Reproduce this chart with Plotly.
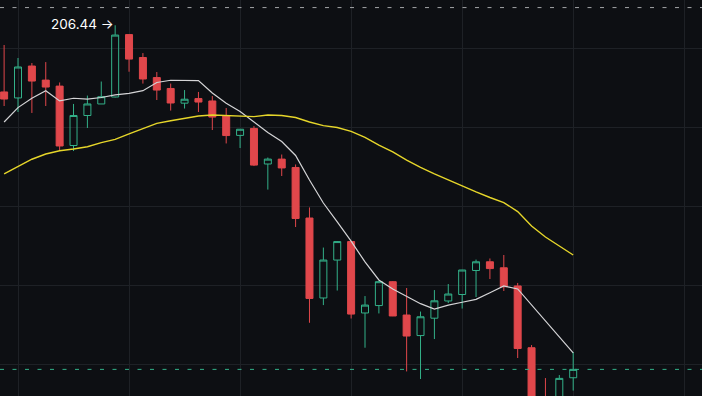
import plotly.graph_objects as go

# ---- data ----
idx = list(range(42))
open_ = [202.22, 201.84, 203.86, 202.97, 202.59, 198.83, 200.73, 201.46, 201.90, 205.85,
         204.40, 203.13, 202.44, 201.51, 201.80, 201.65, 200.73, 199.47, 199.91, 197.66,
         197.97, 197.44, 194.24, 189.18, 191.58, 192.75, 188.23, 188.70, 190.21, 188.10,
         186.80, 187.90, 188.99, 189.40, 190.92, 191.47, 191.09, 189.94, 186.03, 182.60,
         182.10, 184.13]
high = [205.19, 204.37, 204.05, 204.11, 202.82, 201.46, 201.99, 202.88, 206.44, 205.86,
        204.68, 203.48, 202.75, 202.34, 202.22, 201.96, 201.20, 199.87, 200.06, 198.07,
        198.26, 197.63, 194.91, 192.37, 192.78, 192.76, 189.30, 190.28, 190.25, 189.81,
        188.32, 189.68, 190.06, 190.96, 191.61, 191.68, 191.90, 190.13, 186.20, 184.11,
        184.30, 185.76]
low = [201.33, 200.95, 200.89, 201.33, 198.51, 198.48, 199.94, 201.46, 201.87, 203.50,
       202.75, 201.71, 201.04, 201.17, 200.95, 199.81, 198.96, 198.67, 197.53, 196.04,
       196.90, 193.67, 187.61, 188.73, 189.65, 187.88, 186.03, 188.20, 188.03, 184.53,
       184.05, 186.58, 188.86, 188.51, 189.24, 190.38, 189.62, 185.38, 182.10, 181.60,
       181.80, 183.32]
close = [201.77, 203.80, 202.91, 202.53, 198.80, 200.73, 201.46, 201.92, 205.82, 204.30,
         203.04, 202.34, 201.52, 201.76, 201.58, 200.63, 199.46, 199.86, 197.59, 197.97,
         197.41, 194.21, 189.15, 191.58, 192.75, 188.16, 188.73, 190.21, 188.04, 186.77,
         187.99, 189.00, 189.43, 190.95, 191.47, 191.04, 189.89, 185.98, 182.60, 182.10,
         184.09, 184.66]
ma_fast = [200.32, 201.23, 201.82, 202.30, 201.65, 201.82, 201.77, 201.87, 202.03, 202.13,
           202.30, 202.82, 202.96, 202.94, 202.94, 202.15, 201.50, 200.98, 200.34, 199.65,
           199.08, 198.20, 196.65, 195.19, 193.99, 192.78, 191.46, 190.32, 189.75, 189.30,
           188.82, 188.47, 188.73, 188.91, 189.09, 189.51, 189.94, 189.75, 188.73, 187.72,
           186.71, 185.70]
ma_slow = [197.04, 197.49, 197.96, 198.29, 198.50, 198.61, 198.75, 199.01, 199.22, 199.56,
           199.92, 200.23, 200.40, 200.55, 200.70, 200.76, 200.73, 200.66, 200.66, 200.76,
           200.73, 200.60, 200.32, 200.09, 199.97, 199.72, 199.34, 198.86, 198.42, 197.91,
           197.44, 197.03, 196.65, 196.23, 195.89, 195.54, 195.22, 194.65, 193.73, 193.04,
           192.47, 191.90]
x_grid = [1, 9, 17, 25, 33, 41, 49]
y_grid = [185, 190, 195, 200, 205]
upper_line = 207.56
high_label = "206.44 →"
high_idx = 8

RED = "#e0474b"
GREEN = "#33b189"
BG = "#0d0f13"
GRID = "#1e2126"

fig = go.Figure()
fig.add_trace(go.Candlestick(
    x=idx, open=open_, high=high, low=low, close=close,
    increasing=dict(line=dict(color=GREEN, width=1), fillcolor="rgba(0,0,0,0)"),
    decreasing=dict(line=dict(color=RED, width=1), fillcolor=RED),
    whiskerwidth=0, showlegend=False, hoverinfo="skip",
))
fig.add_trace(go.Scatter(x=idx, y=ma_fast, mode="lines",
                         line=dict(color="#d4d4d6", width=1.2), showlegend=False, hoverinfo="skip"))
fig.add_trace(go.Scatter(x=idx, y=ma_slow, mode="lines",
                         line=dict(color="#e6d62a", width=1.4), showlegend=False, hoverinfo="skip"))

fig.add_shape(type="line", xref="paper", x0=0, x1=1, yref="y", y0=upper_line, y1=upper_line,
              line=dict(color="#a3a5a9", width=1, dash="4px,8.5px"))
fig.add_shape(type="line", xref="paper", x0=0, x1=1, yref="y", y0=close[-1], y1=close[-1],
              line=dict(color=GREEN, width=1, dash="4px,8.5px"))

fig.add_annotation(x=high_idx, y=high[high_idx], text=high_label, showarrow=False,
                   xanchor="right", yanchor="middle", xshift=1, yshift=1.5,
                   font=dict(color="#ffffff", size=13.5, family="Inter"))

fig.update_layout(
    width=702, height=396,
    margin=dict(l=0, r=0, t=0, b=0),
    paper_bgcolor=BG, plot_bgcolor=BG,
    boxgap=0.28,
    xaxis=dict(range=[-0.297, 50.28], tickvals=x_grid, showticklabels=False,
               showgrid=True, gridcolor=GRID, gridwidth=1, zeroline=False,
               rangeslider=dict(visible=False), showline=False, fixedrange=True),
    yaxis=dict(range=[182.975, 208.04], tickvals=y_grid, showticklabels=False,
               showgrid=True, gridcolor=GRID, gridwidth=1, zeroline=False, showline=False),
)

fig.write_html("out.html", config={"displayModeBar": False},
               post_script="document.body.style.margin='0';document.body.style.padding='0';"
                           "document.body.style.overflow='hidden';"
                           "document.body.style.background='" + BG + "';")
